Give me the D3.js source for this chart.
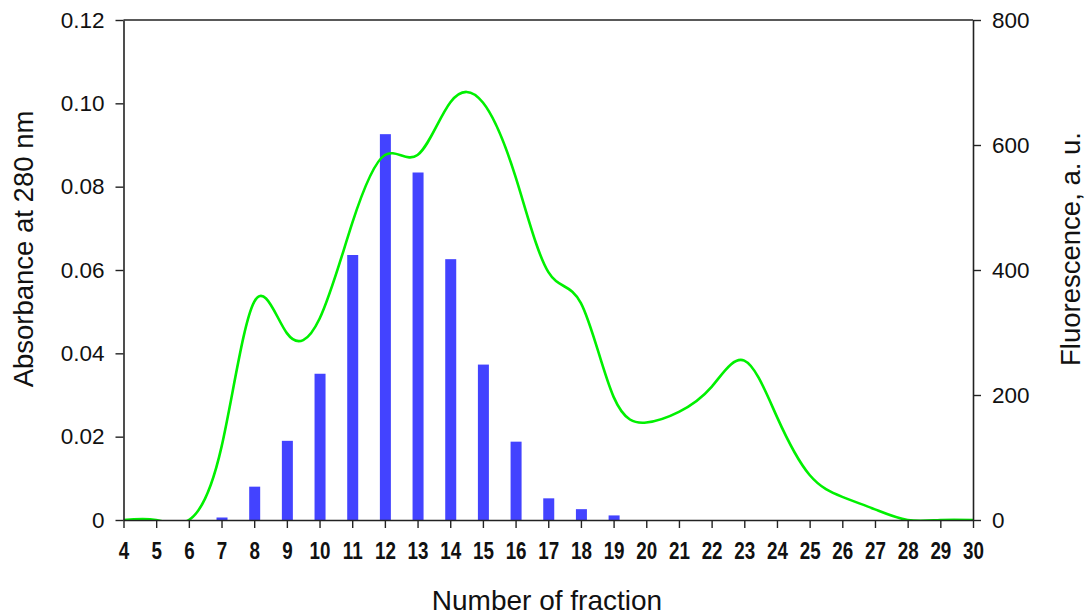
<!DOCTYPE html>
<html>
<head>
<meta charset="utf-8">
<script src="https://cdn.jsdelivr.net/npm/d3@7/dist/d3.min.js"></script>
<style>
  html, body { margin: 0; padding: 0; background: #fff; }
  svg { display: block; }
</style>
</head>
<body>
<svg id="chart" width="1088" height="616"></svg>
<script>
// ---- data ----
const fractions = [4,5,6,7,8,9,10,11,12,13,14,15,16,17,18,19,20,21,22,23,24,25,26,27,28,29,30];
const barFractions = [7,8,9,10,11,12,13,14,15,16,17,18,19];
const absorbance = [0.0006,0.008,0.019,0.0351,0.0636,0.0926,0.0834,0.0626,0.0373,0.0188,0.0052,0.0026,0.0011];
const fluorescence = [0,0,0,117,349,299,322,475,584,584,668,668,549,397,347,197,156,173,213,255,165,72,37,17,0,0,0];
const leftTicks = [0,0.02,0.04,0.06,0.08,0.10,0.12];
const leftTickLabels = ["0","0.02","0.04","0.06","0.08","0.10","0.12"];
const rightTicks = [0,200,400,600,800];
const xTicks = d3.range(4,31);

const svg = d3.select("#chart");
const L = 123.5, R = 973, T = 20, B = 520;

const x = d3.scaleLinear().domain([4,30]).range([L,R]);
const yL = d3.scaleLinear().domain([0,0.12]).range([B,T]);
const yR = d3.scaleLinear().domain([0,800]).range([B,T]);

// clip for curve
svg.append("defs").append("clipPath").attr("id","plotclip")
  .append("rect").attr("x",L).attr("y",0).attr("width",R-L).attr("height",B);

// bars
const bw = 11;
svg.append("g").selectAll("rect").data(barFractions).join("rect")
  .attr("x", (d)=>x(d)-bw/2+0.5)
  .attr("y", (d,i)=>yL(absorbance[i]))
  .attr("width", bw)
  .attr("height", (d,i)=>B - yL(absorbance[i]))
  .attr("fill", "#4343ff");

// curve
const line = d3.line().x((d)=>x(d[0])).y((d)=>yR(d[1])).curve(d3.curveNatural);
svg.append("path")
  .datum(fractions.map((f,i)=>[f,fluorescence[i]]))
  .attr("d", line)
  .attr("fill","none")
  .attr("stroke","#00f000")
  .attr("stroke-width",2.6)
  .attr("clip-path","url(#plotclip)");

// axes
const axStyle = (g)=>{
  g.selectAll(".domain").attr("stroke","#222").attr("stroke-width",1.6);
  g.selectAll(".tick line").attr("stroke","#222").attr("stroke-width",1.4);
};
// top frame line
svg.append("line").attr("x1",L).attr("x2",R).attr("y1",T).attr("y2",T)
  .attr("stroke","#222").attr("stroke-width",1.6);

const gx = svg.append("g").attr("transform",`translate(0,${B})`)
  .call(d3.axisBottom(x).tickValues(xTicks).tickSize(8).tickSizeOuter(0).tickPadding(14).tickFormat(d3.format("d")));
axStyle(gx);
gx.selectAll(".tick text")
  .attr("font-family","'Liberation Sans',Arial,sans-serif")
  .attr("font-weight","bold").attr("font-size",23.5).attr("fill","#111")
  .attr("transform","scale(0.8,1)");

const gl = svg.append("g").attr("transform",`translate(${L},0)`)
  .call(d3.axisLeft(yL).tickValues(leftTicks).tickSize(8).tickSizeOuter(0).tickPadding(11)
    .tickFormat((d,i)=>leftTickLabels[i]));
axStyle(gl);
gl.selectAll(".tick text").attr("font-family","'Liberation Sans',Arial,sans-serif")
  .attr("font-size",22.5).attr("fill","#111");

const gr = svg.append("g").attr("transform",`translate(${R},0)`)
  .call(d3.axisRight(yR).tickValues(rightTicks).tickSize(8).tickSizeOuter(0).tickPadding(11)
    .tickFormat(d3.format("d")));
axStyle(gr);
gr.selectAll(".tick text").attr("font-family","'Liberation Sans',Arial,sans-serif")
  .attr("font-size",22.5).attr("fill","#111");

// titles
svg.append("text").attr("x",547).attr("y",610).attr("text-anchor","middle")
  .attr("font-family","'Liberation Sans',Arial,sans-serif").attr("font-size",28).attr("fill","#111")
  .text("Number of fraction");
svg.append("text").attr("transform","translate(33,249) rotate(-90)").attr("text-anchor","middle")
  .attr("font-family","'Liberation Sans',Arial,sans-serif").attr("font-size",27.5).attr("fill","#111")
  .text("Absorbance at 280 nm");
svg.append("text").attr("transform","translate(1080,249) rotate(-90)").attr("text-anchor","middle")
  .attr("font-family","'Liberation Sans',Arial,sans-serif").attr("font-size",27.5).attr("fill","#111")
  .text("Fluorescence, a. u.");
</script>
</body>
</html>
